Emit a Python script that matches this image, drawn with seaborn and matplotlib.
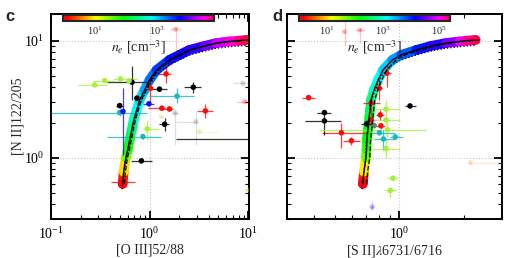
import numpy as np
import pandas as pd
import matplotlib
matplotlib.use('Agg')
from matplotlib import pyplot as plt
from matplotlib.collections import LineCollection
from matplotlib.colors import LogNorm, LinearSegmentedColormap
from matplotlib import ticker
import seaborn as sns

# model track
nii_model = [0.60, 0.76, 1.0, 1.17, 1.43, 1.73, 2.11, 2.57, 3.13, 3.81,
             4.64, 5.65, 6.88, 7.6, 8.38, 9.06, 9.6, 9.9, 10.05, 10.2]
oiii_model = [0.533, 0.546, 0.573, 0.60, 0.628, 0.658, 0.69, 0.74, 0.792, 0.89,
              1.0, 1.18, 1.59, 2.01, 2.53, 3.6, 4.75, 6.43, 8.1, 9.55]
sii_model = [0.676, 0.684, 0.699, 0.703, 0.706, 0.714, 0.722, 0.73, 0.738, 0.762,
             0.796, 0.84, 0.927, 1.02, 1.2, 1.4, 1.65, 1.9, 2.05, 2.26]
# density along each track (colour of the track)
ne_c = [1, 3, 22, 48, 104, 180, 315, 490, 760, 1060,
        1650, 2560, 3980, 4970, 5560, 7760, 15000, 25900, 45700, 63100]
ne_d = [1, 3.5, 42, 78, 128, 164, 210, 270, 390, 640,
        1200, 1740, 2850, 4680, 8800, 14400, 27000, 56800, 137000, 251000]

# panel c: [O III]52/88 vs [N II]122/205
c_x = [0.663, 1.26, 2.78, 0.744, 0.497, 1.42, 0.825, 11.0,
       1.47, 1.02, 1.33, 1.59, 3.68, 0.55,
       0.278, 0.351, 0.506, 0.618, 0.948,
       1.9, 0.497, 0.856,
       0.984, 0.537]
c_y = [4.44, 3.87, 4.02, 3.24, 2.8, 1.94, 0.943, 1.44,
       5.23, 3.94, 2.66, 2.62, 2.52, 0.62,
       4.21, 4.58, 4.73, 4.55, 1.77,
       3.37, 2.44, 1.52,
       2.9, 2.49]
c_xlo = [0.368, 1.047, 2.26, 0.72, 0.46, 1.26, 0.643, 1.87,
         1.205, 0.98, 0.954, 1.35, 3.05, 0.41,
         0.187, 0.265, 0.423, 0.59, 0.85,
         0.98, 0.1, 0.37,
         0.85, 0.52]
c_xhi = [0.977, 1.485, 3.35, 0.77, 0.54, 1.59, 1.047, 14.0,
         1.667, 1.06, 1.45, 1.71, 4.43, 0.705,
         0.368, 0.443, 0.74, 0.65, 1.26,
         2.85, 0.933, 1.3,
         1.12, 0.555]
c_ylo = [3.13, 3.7, 3.59, 3.1, 2.65, 1.7, 0.9, 1.24,
         4.38, 2.84, 2.55, 2.5, 2.2, 0.6,
         4.1, 4.45, 4.6, 4.4, 1.43,
         2.95, 2.3, 1.45,
         2.8, 1.06]
c_yhi = [6.15, 4.05, 4.46, 3.4, 2.95, 2.2, 0.99, 1.67,
         6.23, 5.12, 2.78, 2.74, 2.9, 0.64,
         4.3, 4.7, 4.85, 4.7, 2.11,
         3.96, 2.6, 1.6,
         3.0, 3.96]
c_grp = ['k'] * 8 + ['r'] * 6 + ['yg'] * 5 + ['c'] * 3 + ['b'] * 2

# panel c, faint points
cf_x = [1.82, 2.95, 1.31, 3.2, 8.8, 9.2, 1.84, 10.0]
cf_y = [2.41, 2.04, 2.25, 1.68, 4.35, 3.03, 12.6, 0.53]
cf_xlo = [1.65, 1.87, 1.25, 3.0, 7.0, 7.5, 1.6, 9.0]
cf_xhi = [2.0, 3.1, 1.4, 4.86, 12.0, 12.0, 2.1, 12.0]
cf_ylo = [1.3, 1.3, 2.2, 1.6, 4.3, 2.95, 7.9, 0.52]
cf_yhi = [2.6, 2.45, 2.3, 1.75, 4.4, 3.1, 13.2, 0.54]
cf_grp = ['gray', 'gray', 'yg', 'yg', 'gray', 'r', 'r', 'yg']

# panel d: [S II]6731/6716 vs [N II]122/205
d_x = [0.378, 0.537, 0.598, 0.875, 0.807, 0.738, 0.814, 0.738, 0.82,
       0.448, 0.448, 0.704, 1.12,
       0.763,
       0.866, 0.866, 0.88, 0.866, 0.934, 0.907,
       0.807, 0.843, 0.957]
d_y = [3.28, 1.64, 1.40, 5.3, 3.94, 2.94, 2.33, 2.11, 1.88,
       2.44, 2.07, 1.95, 2.78,
       1.89,
       2.61, 2.11, 1.74, 1.2, 0.67, 0.526,
       1.64, 1.45, 1.51]
d_xlo = [0.352, 0.437, 0.544, 0.84, 0.76, 0.676, 0.78, 0.7, 0.79,
         0.415, 0.364, 0.662, 1.056,
         0.73,
         0.746, 0.746, 0.424, 0.746, 0.88, 0.85,
         0.73, 0.76, 0.9]
d_xhi = [0.406, 0.706, 0.655, 0.91, 0.83, 0.814, 0.85, 0.78, 0.86,
         0.483, 0.537, 0.754, 1.19,
         0.8,
         1.01, 1.01, 1.33, 1.01, 0.99, 0.96,
         0.957, 0.957, 1.044]
d_ylo = [3.15, 1.22, 1.3, 4.04, 3.13, 2.33, 2.1, 1.9, 1.75,
         2.35, 1.57, 1.85, 2.7,
         1.8,
         2.2, 1.9, 1.5, 1.0, 0.63, 0.45,
         1.57, 1.17, 1.45]
d_yhi = [3.4, 1.99, 1.5, 6.23, 4.83, 3.45, 2.55, 2.3, 2.0,
         2.55, 2.44, 2.05, 2.86,
         2.0,
         3.1, 2.3, 2.0, 1.45, 0.71, 0.56,
         1.72, 1.73, 1.57]
d_grp = ['r'] * 9 + ['k'] * 4 + ['gray'] + ['yg'] * 6 + ['c'] * 3

# panel d, faint points
df_x = [0.746, 2.14, 0.655, 0.556]
df_y = [0.38, 0.91, 12.4, 12.0]
df_xlo = [0.74, 2.1, 0.62, 0.55]
df_xhi = [0.75, 3.0, 0.69, 0.56]
df_ylo = [0.36, 0.9, 9.6, 9.0]
df_yhi = [0.42, 0.92, 13.0, 16.0]
df_grp = ['b', 'orange', 'r', 'r']

palette = {'k': '#000000', 'r': '#ff0a0a', 'yg': '#a8f03a', 'c': '#1ab8bf',
           'b': '#1010ff', 'gray': '#777777', 'orange': '#f0a040'}

# rainbow running red -> yellow -> green -> cyan -> blue -> magenta -> red
rainbow = LinearSegmentedColormap.from_list('ne_rainbow', [
    (0.0, (1.0, 0.0, 0.1)), (0.03, (1.0, 0.0, 0.0)), (0.215, (1.0, 1.0, 0.0)),
    (0.4, (0.0, 1.0, 0.0)), (0.586, (0.0, 1.0, 1.0)), (0.77, (0.0, 0.0, 1.0)),
    (0.93, (1.0, 0.0, 1.0)), (1.0, (1.0, 0.0, 0.3))])

sns.set_theme(style='ticks')
plt.rcParams['font.family'] = ['Liberation Serif', 'DejaVu Serif']
plt.rcParams['mathtext.fontset'] = 'stix'

fig = plt.figure(figsize=(5.12, 2.58), dpi=100)
W, H = 512, 258
ax_c = fig.add_axes([51 / W, 1 - 219 / H, 198 / W, 205 / H])
ax_d = fig.add_axes([287 / W, 1 - 219 / H, 215 / W, 205 / H])


def draw_points(ax, x, y, xlo, xhi, ylo, yhi, grp, alpha, size):
    df = pd.DataFrame(dict(x=x, y=y, xlo=xlo, xhi=xhi, ylo=ylo, yhi=yhi, grp=grp))
    for _, r in df.iterrows():
        ax.errorbar(r.x, r.y, xerr=[[r.x - r.xlo], [r.xhi - r.x]],
                    yerr=[[r.y - r.ylo], [r.yhi - r.y]], fmt='none',
                    ecolor=palette[r.grp], elinewidth=0.9, alpha=alpha * 0.8,
                    capsize=0, zorder=3)
    sns.scatterplot(data=df, x='x', y='y', hue='grp', palette=palette, s=size,
                    edgecolor='none', alpha=alpha, legend=False, ax=ax, zorder=4)


def draw_track(ax, xs, ne, norm):
    pts = np.column_stack([xs, nii_model])
    segs = np.stack([pts[:-1], pts[1:]], axis=1)
    ne = np.array(ne, dtype=float)
    mid = np.sqrt(ne[:-1] * ne[1:])
    lc = LineCollection(segs, cmap=rainbow, norm=norm, linewidths=7,
                        capstyle='round', joinstyle='round', zorder=2)
    lc.set_array(mid)
    ax.add_collection(lc)
    ax.scatter([xs[0], xs[-1]], [nii_model[0], nii_model[-1]], c=[ne[0], ne[-1]],
               cmap=rainbow, norm=norm, s=48, edgecolors='none', zorder=2)
    track = pd.DataFrame(dict(x=xs, y=nii_model))
    sns.lineplot(data=track, x='x', y='y', sort=False, estimator=None,
                 color='black', lw=1.0, ax=ax, zorder=5)
    ax.plot(np.array(xs) * 1.04, nii_model, color='black', lw=0.9, ls='--', zorder=5)
    ax.plot(np.array(xs) * 0.99, np.array(nii_model) * 0.9, color='black', lw=0.9,
            ls=':', zorder=5)


def colorbar(x0, norm, ticks):
    cax = fig.add_axes([x0 / W, 1 - 20.7 / H, 151 / W, 5.7 / H])
    sm = plt.cm.ScalarMappable(norm=norm, cmap=rainbow)
    cb = fig.colorbar(sm, cax=cax, orientation='horizontal')
    cb.set_ticks(ticks)
    cax.xaxis.set_minor_locator(ticker.NullLocator())
    cax.tick_params(length=0, labelsize=7.5, pad=3)
    cb.set_label(r'$n_e$ [cm$^{-3}$]', fontsize=10, labelpad=0.5)
    cb.outline.set_linewidth(1.5)


norm_c = LogNorm(1, 10 ** 4.8)
norm_d = LogNorm(1, 10 ** 5.4)

draw_track(ax_c, oiii_model, ne_c, norm_c)
draw_points(ax_c, cf_x, cf_y, cf_xlo, cf_xhi, cf_ylo, cf_yhi, cf_grp, 0.3, 13)
draw_points(ax_c, c_x, c_y, c_xlo, c_xhi, c_ylo, c_yhi, c_grp, 1.0, 16)

draw_track(ax_d, sii_model, ne_d, norm_d)
draw_points(ax_d, df_x, df_y, df_xlo, df_xhi, df_ylo, df_yhi, df_grp, 0.3, 13)
draw_points(ax_d, d_x, d_y, d_xlo, d_xhi, d_ylo, d_yhi, d_grp, 1.0, 16)

for ax, xlim in [(ax_c, (0.1, 10.2)), (ax_d, (0.3, 3.0))]:
    ax.set_xscale('log')
    ax.set_yscale('log')
    ax.set_xlim(*xlim)
    ax.set_ylim(0.30, 17)
    ax.xaxis.set_minor_formatter(ticker.NullFormatter())
    ax.yaxis.set_minor_formatter(ticker.NullFormatter())
    ax.tick_params(which='both', direction='in', top=True, right=True,
                   labelsize=10, colors='black')
    ax.tick_params(which='major', length=6, width=1.3, pad=5)
    ax.tick_params(which='minor', length=3, width=0.8)
    ax.grid(True, which='major', color='#c8c8c8', ls=':', lw=0.8)
    for s in ax.spines.values():
        s.set_linewidth(1.4)
        s.set_color('black')
    ax.set_axisbelow(True)

ax_d.tick_params(labelleft=False)
ax_c.set_xlabel('[O III]52/88', fontsize=10, labelpad=1)
ax_d.set_xlabel(r'[S II]$\lambda$6731/6716', fontsize=10, labelpad=1)
ax_c.set_ylabel('[N II]122/205', fontsize=10, labelpad=-1)
ax_d.set_ylabel('')

colorbar(63, norm_c, [10, 1e3])
colorbar(299, norm_d, [10, 1e3, 1e5])

fig.text(5 / W, 1 - 21 / H, 'c', fontsize=12, fontweight='bold',
         family=['Liberation Sans', 'DejaVu Sans'])
fig.text(272 / W, 1 - 21 / H, 'd', fontsize=12, fontweight='bold',
         family=['Liberation Sans', 'DejaVu Sans'])

fig.savefig('out.png', dpi=100)
